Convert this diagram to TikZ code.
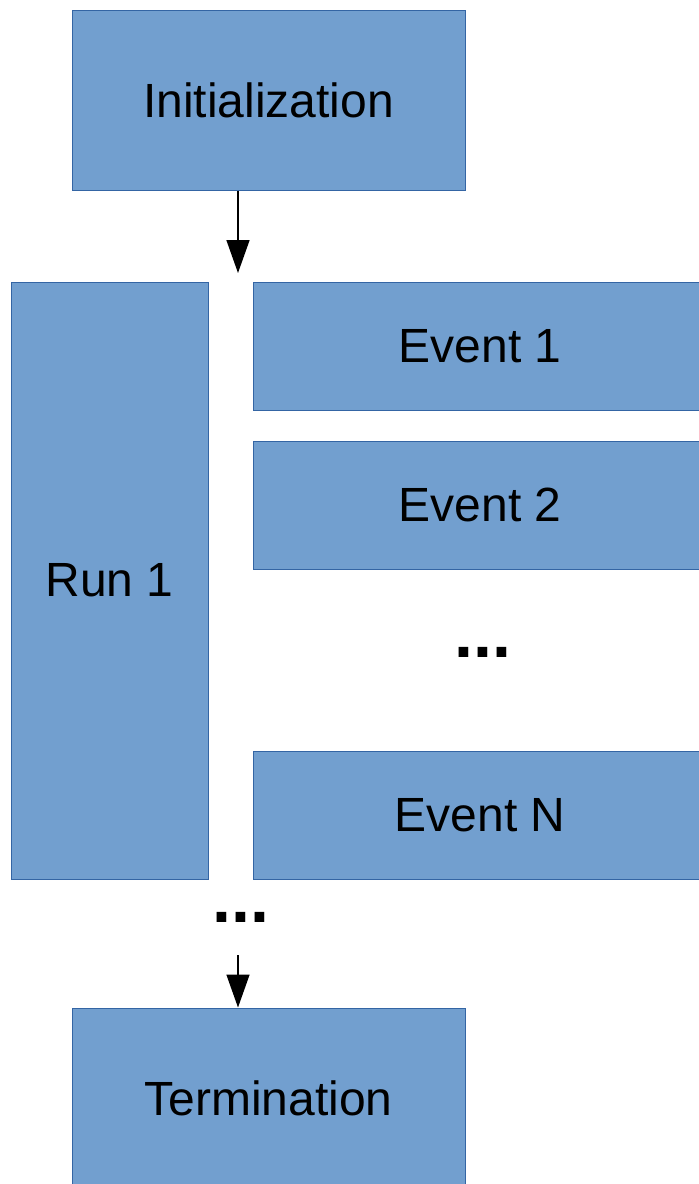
\documentclass[tikz,border=0pt]{standalone}
\usepackage{fontspec}
\setmainfont{Liberation Sans}
\usetikzlibrary{arrows.meta}
\definecolor{boxfill}{HTML}{729FCF}
\definecolor{boxline}{HTML}{3465A4}
\tikzset{
  block/.style={draw=boxline,fill=boxfill,line width=1pt,inner sep=0pt,font=\fontsize{48}{56}\selectfont},
  wide/.style={block,minimum width=393pt,minimum height=180pt},
  event/.style={block,minimum width=454pt,minimum height=128pt},
  more/.style={inner sep=0pt,font=\bfseries\fontsize{68}{80}\selectfont},
  flow/.style={line width=1.5pt,-{Triangle[width=23pt,length=33pt]}}
}
\begin{document}
\begin{tikzpicture}[x=1pt,y=-1pt]
  % Boundary
  \useasboundingbox (0,0) rectangle (699,1184);
  \clip (0,0) rectangle (699,1184);
  % Stages
  \node[wide] (init) at (268.5,100) {Initialization};
  \node[block,minimum width=197pt,minimum height=597pt] (run) at (109.5,580.5) {Run 1};
  \node[wide] (term) at (268.5,1098) {Termination};
  % Events of the run
  \node[event] (ev1) at (480,346) {Event 1};
  \node[event] (ev2) at (480,505) {Event 2};
  \node[more] (evdots) at (483,652) {...};
  \node[event] (evN) at (480,815) {Event N};
  % Further runs
  \node[more] (rundots) at (241,917) {...};
  % Arrows
  \coordinate (in) at (238,273);
  \coordinate (out) at (238,955);
  \draw[flow] (init.south -| in) -- (in);
  \draw[flow] (out) -- (out |- term.north);
\end{tikzpicture}
\end{document}
